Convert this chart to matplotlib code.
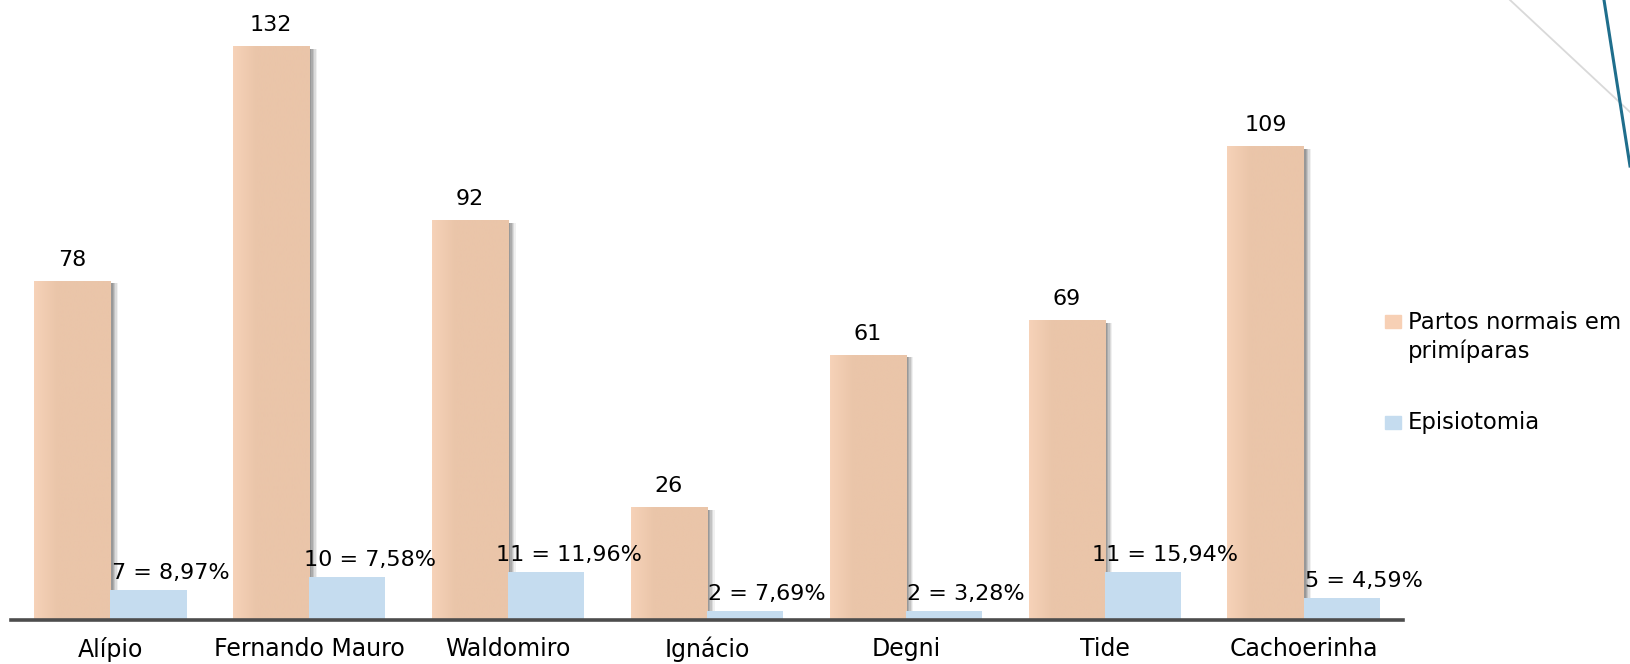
#!/usr/bin/env python3
# -*- coding: utf-8 -*-
"""Partos normais em primíparas x episiotomia, por unidade."""

import numpy as np
import matplotlib
matplotlib.use('Agg')
import matplotlib.pyplot as plt
import matplotlib.patheffects as pe
from matplotlib.lines import Line2D
from matplotlib.patches import Rectangle

# Données
unidades = ['Alípio', 'Fernando Mauro', 'Waldomiro', 'Ignácio',
            'Degni', 'Tide', 'Cachoerinha']
partos = [78, 132, 92, 26, 61, 69, 109]
episiotomia = [7, 10, 11, 2, 2, 11, 5]

serie_partos = 'Partos normais em\nprimíparas'
serie_epis = 'Episiotomia'

ORANGE = '#EAC5A9'
ORANGE_LIGHT = '#F6D2B8'
BLUE = '#C5DCEF'
AXIS = '#4D4D4D'

W, H = 1630, 664
plt.rcParams['font.family'] = ['DejaVu Sans']

fig = plt.figure(figsize=(W / 100, H / 100), dpi=100)
fig.patch.set_facecolor('white')
ax = fig.add_axes([11 / W, 44 / H, 1392 / W, 609 / H])

x = np.arange(len(unidades))
bw = 0.383

shadow = [pe.SimplePatchShadow(offset=(o, -2), shadow_rgbFace='#6E6E6E', alpha=a)
          for o, a in [(5.5, 0.10), (4.5, 0.16), (3.5, 0.22), (2.5, 0.28), (1.5, 0.3)]]
bars_p = ax.bar(x - bw / 2, partos, bw, color=ORANGE, zorder=2,
                path_effects=shadow + [pe.Normal()])
bars_e = ax.bar(x + bw / 2, episiotomia, bw, color=BLUE, zorder=3)

# léger dégradé sur le bord gauche des barres orange
c0 = np.array(matplotlib.colors.to_rgb(ORANGE_LIGHT))
c1 = np.array(matplotlib.colors.to_rgb(ORANGE))
t = np.clip(np.linspace(0, 1, 60) / 0.3, 0, 1)[:, None]
grad = (c0 * (1 - t) + c1 * t)[None, :, :]
for b in bars_p:
    x0, h = b.get_x(), b.get_height()
    im = ax.imshow(grad, extent=(x0, x0 + b.get_width(), 0, h),
                   aspect='auto', zorder=2.1, interpolation='bilinear')
    im.set_clip_path(b)

for b, v in zip(bars_p, partos):
    ax.annotate(f'{v}', xy=(b.get_x() + b.get_width() / 2, v),
                xytext=(0, 8), textcoords='offset points',
                ha='center', va='bottom', fontsize=16, zorder=5)

for b, n, tot in zip(bars_e, episiotomia, partos):
    pct = f'{100 * n / tot:.2f}'.replace('.', ',')
    ax.annotate(f'{n} = {pct}%', xy=(b.get_x() + b.get_width() / 2, n),
                xytext=(16, 5), textcoords='offset points',
                ha='center', va='bottom', fontsize=16, zorder=5)

ax.set_xlim(-0.5, len(unidades) - 0.5)
ax.set_ylim(0, 140)
ax.set_xticks(x)
ax.set_xticklabels(unidades, fontsize=17)
ax.tick_params(axis='x', length=0, pad=12)
ax.set_yticks([])
for s in ['top', 'right', 'left']:
    ax.spines[s].set_visible(False)
ax.spines['bottom'].set_color(AXIS)
ax.spines['bottom'].set_linewidth(2.6)
ax.spines['bottom'].set_zorder(4)
ax.set_facecolor('none')

# légende à droite
def fy(py):
    return (H - py) / H

fig.add_artist(Rectangle((1385 / W, fy(328)), 16 / W, 13 / H,
                         color='#F7D0B5', transform=fig.transFigure))
fig.text(1408 / W, fy(337), serie_partos, fontsize=16.4, va='center',
         ha='left', linespacing=1.3)
fig.add_artist(Rectangle((1385 / W, fy(429)), 16 / W, 13 / H,
                         color=BLUE, transform=fig.transFigure))
fig.text(1408 / W, fy(422), serie_epis, fontsize=16.4, va='center', ha='left')

# traits décoratifs en haut à droite
fig.add_artist(Line2D([1510 / W, 1630 / W], [fy(0), fy(112)],
                      color='#D9D9D9', lw=1.3, transform=fig.transFigure))
fig.add_artist(Line2D([1604 / W, 1630 / W], [fy(0), fy(166)],
                      color='#1F6E8C', lw=2.2, transform=fig.transFigure))

fig.savefig('out.png', dpi=100, facecolor='white')
plt.close(fig)
